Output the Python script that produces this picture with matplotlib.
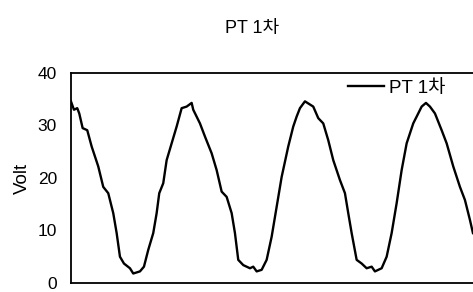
import numpy as np
import matplotlib
matplotlib.use('Agg')
import matplotlib.pyplot as plt

plt.rcParams['font.family'] = ['Liberation Sans', 'Noto Sans CJK KR']

# PT 1차 파형, t = 샘플 위치
t = [0, 3, 6.3, 8.3, 11.7, 16.3, 20.7, 27.3, 32.3, 37.3, 42.3, 45.7, 49, 53, 59,
     62.3, 69, 73, 77.3, 82.3, 85.7, 88.3,
     92.3, 95.7, 100.7, 105.7, 110.7, 115.7, 120.7, 122.3, 129, 134, 140.7, 145.7,
     150.7, 155.7, 160.7, 164, 167.3, 172.3, 179, 182.3, 185.7, 190.7, 195.7,
     200.7, 205.7, 210.7, 217.3, 222.3, 225.7, 229, 234,
     242.3, 247.3, 252.3, 257.3, 262.3, 269, 274, 277.3, 280.7, 285.7, 290.7,
     295.7, 300.7, 304, 310.7, 315.7, 320.7, 325.7, 330.7, 335.7, 342.3, 347.3,
     350.7, 355, 359, 364, 370.7, 375.7, 382.3, 389, 394, 399, 402]
volt = [34.6, 33.0, 33.3, 32.3, 29.5, 29.1, 26.0, 22.2, 18.3, 17.1, 13.3, 9.5, 5.0,
        3.7, 2.8, 1.8, 2.2, 3.1, 6.3, 9.5, 13.3, 17.1,
        19.0, 23.4, 26.6, 29.8, 33.3, 33.6, 34.3, 33.0, 30.4, 27.9, 24.7, 21.5,
        17.4, 16.4, 13.3, 9.5, 4.4, 3.4, 2.8, 3.1, 2.2, 2.5, 4.4, 8.8, 14.5, 20.2,
        26.0, 29.8, 31.7, 33.3, 34.6,
        33.6, 31.4, 30.4, 27.2, 23.4, 19.6, 17.1, 13.3, 9.5, 4.4, 3.7, 2.8, 3.1,
        2.2, 2.8, 5.0, 9.5, 15.2, 21.5, 26.6, 30.4, 32.3, 33.6, 34.3, 33.6, 32.3,
        29.1, 26.6, 22.2, 18.3, 15.8, 12.0, 9.5]
yticks = [0, 10, 20, 30, 40]

fig = plt.figure(figsize=(4.73, 2.92), dpi=100)
ax = fig.add_axes([0.150, 0.031, 0.90, 0.719])
ax.plot(t, volt, color='black', linewidth=1.7, label='PT 1차')
ax.set_xlim(0, 0.90 * 473)
ax.set_ylim(0, 40)
ax.set_yticks(yticks)
ax.set_xticks([])
ax.tick_params(axis='y', length=0, pad=10, labelsize=12.5)
for s in ax.spines.values():
    s.set_linewidth(1.3)
ax.set_ylabel('Volt', fontsize=13.5, labelpad=5)
fig.text(252 / 473, 1 - 28 / 292, 'PT 1차', ha='center', va='center', fontsize=13)
ax.legend(loc='center left', bbox_to_anchor=(348 / 473, 1 - 88 / 292),
          bbox_transform=fig.transFigure, frameon=False, fontsize=13.5,
          handlelength=1.9, handletextpad=0.3, borderpad=0, borderaxespad=0)
fig.savefig('out.png', dpi=100)
